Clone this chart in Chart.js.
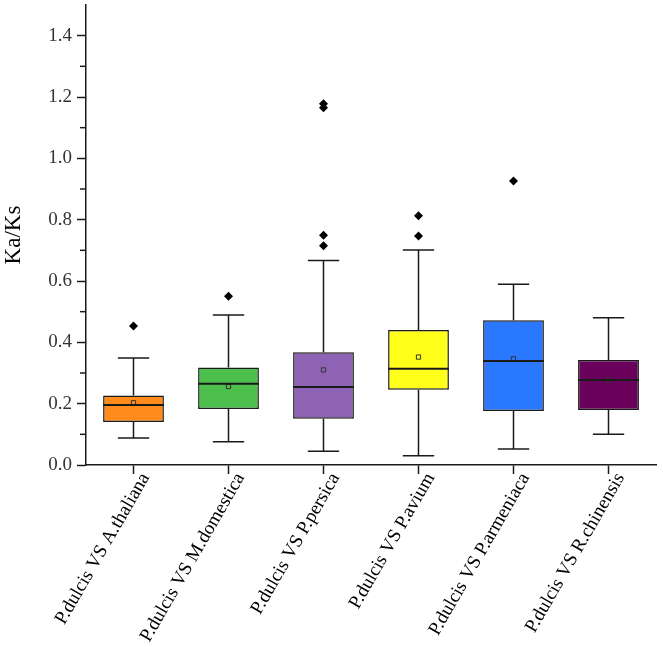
<!DOCTYPE html>
<html>
<head>
<meta charset="utf-8">
<script src="https://cdn.jsdelivr.net/npm/chart.js@4"></script>
<style>
  html, body { margin: 0; padding: 0; background: #fff; }
  #wrap { width: 663px; height: 647px; position: relative; }
</style>
</head>
<body>
<div id="wrap"><canvas id="chartKaKs"></canvas></div>
<script>
// ===== DADOS =====
const categorias = ['P.dulcis VS A.thaliana', 'P.dulcis VS M.domestica', 'P.dulcis VS P.persica',
                    'P.dulcis VS P.avium', 'P.dulcis VS P.armeniaca', 'P.dulcis VS R.chinensis'];
const bigodeMin = [0.088, 0.076, 0.045, 0.030, 0.052, 0.100];
const q1        = [0.140, 0.183, 0.151, 0.245, 0.176, 0.179];
const mediana   = [0.196, 0.265, 0.254, 0.314, 0.339, 0.277];
const q3        = [0.227, 0.318, 0.368, 0.440, 0.472, 0.342];
const bigodeMax = [0.349, 0.489, 0.667, 0.701, 0.589, 0.480];
const media     = [0.203, 0.256, 0.310, 0.352, 0.346, 0.277];
const outliers  = [[0.453], [0.550], [0.715, 0.749, 1.165, 1.178], [0.747, 0.813], [0.926], []];
const yTicks    = [0, 0.2, 0.4, 0.6, 0.8, 1.0, 1.2, 1.4];
const cores     = ['#FF8C1A', '#4CBF4C', '#8E63B5', '#FFFF1A', '#2A78FF', '#68005C'];

const FONTE = '"Liberation Serif", "DejaVu Serif", serif';

// ===== GRÁFICO =====
const ctx = document.getElementById('chartKaKs');
new Chart(ctx, {
  type: 'bar',
  data: {
    labels: categorias,
    datasets: [
      {
        label: 'caixa',
        data: q1.map((v, i) => [v, q3[i]]),
        backgroundColor: cores,
        borderColor: '#1a1a1a',
        borderWidth: 1.5,
        borderSkipped: false,
        barPercentage: 0.64,
        categoryPercentage: 1,
        order: 2
      },
      {
        type: 'line',
        label: 'media',
        data: media,
        showLine: false,
        pointStyle: 'rect',
        pointRadius: 3,
        pointBorderWidth: 1,
        pointBorderColor: '#333',
        pointBackgroundColor: 'rgba(0,0,0,0)',
        order: 0
      },
      {
        type: 'line',
        label: 'outliers',
        data: outliers.flatMap((arr, i) => arr.map(v => ({ x: categorias[i], y: v }))),
        showLine: false,
        pointStyle: 'rectRot',
        pointRadius: 4.5,
        pointBorderWidth: 0,
        pointBackgroundColor: '#000',
        order: 0
      }
    ]
  },
  options: {
    responsive: true,
    maintainAspectRatio: false,
    animation: false,
    layout: { padding: { top: 4, right: 7, left: 0, bottom: 0 } },
    plugins: { legend: { display: false }, tooltip: { enabled: false } },
    scales: {
      x: {
        border: { color: '#1a1a1a', width: 1.5 },
        grid: { drawOnChartArea: false, tickLength: 9, tickColor: '#1a1a1a', tickWidth: 1.5, offset: false },
        ticks: {
          color: '#000',
          font: { family: FONTE, size: 19 },
          maxRotation: 60, minRotation: 60,
          padding: -5,
          labelOffset: 12
        },
        afterFit(s) { s.height = 182; s.paddingLeft = 0; s.paddingRight = 0; }
      },
      y: {
        min: 0, max: 1.5,
        border: { color: '#1a1a1a', width: 1.5 },
        grid: {
          drawOnChartArea: false, tickLength: 9, tickWidth: 1.5,
          tickColor: c => (Math.round(c.tick.value * 10) % 2 === 0 && c.tick.value < 1.45) ? '#1a1a1a' : 'rgba(0,0,0,0)'
        },
        ticks: {
          stepSize: 0.1,
          color: '#333',
          font: { family: FONTE, size: 19 },
          padding: 5,
          callback: v => {
            const t = yTicks.find(k => Math.abs(k - v) < 1e-6);
            return t === undefined ? '' : t.toFixed(1);
          }
        },
        title: {
          display: true, text: 'Ka/Ks', color: '#000',
          font: { family: FONTE, size: 23 }, padding: { top: 0, bottom: 12 }
        },
        afterFit(s) { s.width = 86; s.paddingTop = 0; s.paddingBottom = 0; }
      }
    }
  },
  plugins: [{
    id: 'bigodes',
    afterDatasetsDraw(chart) {
      const x = chart.scales.x, y = chart.scales.y, c = chart.ctx;
      const larg = x.getPixelForValue(1) - x.getPixelForValue(0);
      const meiaCaixa = larg * 0.32, meiaTampa = larg * 0.165;
      c.save();
      c.strokeStyle = '#1a1a1a';
      c.lineWidth = 1.5;
      categorias.forEach((_, i) => {
        const cx = x.getPixelForValue(i);
        c.beginPath();
        c.moveTo(cx, y.getPixelForValue(q3[i])); c.lineTo(cx, y.getPixelForValue(bigodeMax[i]));
        c.moveTo(cx, y.getPixelForValue(q1[i])); c.lineTo(cx, y.getPixelForValue(bigodeMin[i]));
        c.moveTo(cx - meiaTampa, y.getPixelForValue(bigodeMax[i])); c.lineTo(cx + meiaTampa, y.getPixelForValue(bigodeMax[i]));
        c.moveTo(cx - meiaTampa, y.getPixelForValue(bigodeMin[i])); c.lineTo(cx + meiaTampa, y.getPixelForValue(bigodeMin[i]));
        c.stroke();
        c.lineWidth = 2;
        c.beginPath();
        c.moveTo(cx - meiaCaixa, y.getPixelForValue(mediana[i])); c.lineTo(cx + meiaCaixa, y.getPixelForValue(mediana[i]));
        c.stroke();
        c.lineWidth = 1.5;
      });
      // ticks menores do eixo y
      const xa = y.right;
      for (let k = 1; k < 15; k += 2) {
        const py = y.getPixelForValue(k / 10);
        c.beginPath(); c.moveTo(xa - 6, py); c.lineTo(xa, py); c.stroke();
      }
      c.restore();
    }
  }]
});
</script>
</body>
</html>
